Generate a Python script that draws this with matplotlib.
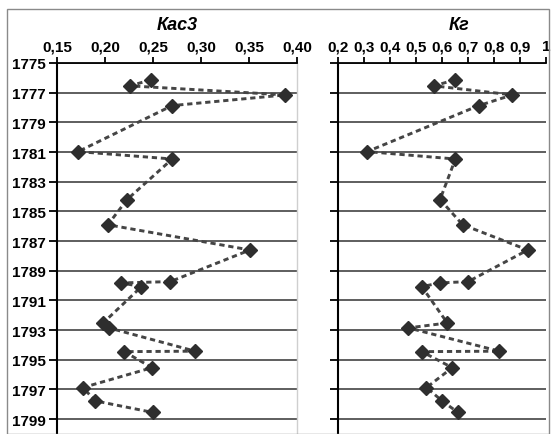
import matplotlib
matplotlib.use('Agg')
import matplotlib.pyplot as plt
from matplotlib.patches import Rectangle

plt.rcParams['font.family'] = ['Liberation Sans', 'DejaVu Sans']

# dados
anos = [1776.13, 1776.54, 1777.15, 1777.87, 1780.97, 1781.47, 1784.2, 1785.9, 1787.6,
        1789.73, 1789.82, 1790.07, 1792.52, 1792.85, 1794.42, 1794.45, 1795.53,
        1796.87, 1797.77, 1798.55]
kas3 = [0.248, 0.226, 0.388, 0.270, 0.172, 0.270, 0.223, 0.203, 0.351, 0.268,
        0.217, 0.238, 0.198, 0.204, 0.294, 0.220, 0.249, 0.177, 0.190, 0.250]
kg = [0.651, 0.570, 0.871, 0.742, 0.313, 0.652, 0.593, 0.680, 0.930, 0.701,
      0.592, 0.523, 0.621, 0.471, 0.821, 0.523, 0.640, 0.541, 0.601, 0.662]

anos_ticks = list(range(1775, 1800, 2))
kas3_ticks = [0.15, 0.20, 0.25, 0.30, 0.35, 0.40]
kas3_labels = ['0,15', '0,20', '0,25', '0,30', '0,35', '0,40']
kg_ticks = [0.2, 0.3, 0.4, 0.5, 0.6, 0.7, 0.8, 0.9, 1.0]
kg_labels = ['0,2', '0,3', '0,4', '0,5', '0,6', '0,7', '0,8', '0,9', '1']

W, H = 552, 435
fig = plt.figure(figsize=(W / 100, H / 100), dpi=100)

# moldura externa
fig.patches.append(Rectangle((7 / W, 0), 542 / W, (H - 10) / H, transform=fig.transFigure,
                             fill=False, edgecolor='#8a8a8a', linewidth=1.0))

ax1 = fig.add_axes([57 / W, 0, 240 / W, (H - 64) / H])
ax2 = fig.add_axes([337.7 / W, 0, 208.3 / W, (H - 64) / H])


def estiloEixo(ax, valores, xticks, xlabels, xlim, labels_y, lado_direito):
    ax.plot(valores, anos, color='#454545', linewidth=2.1, linestyle=(0, (1.8, 1.3)),
            dash_capstyle='butt', zorder=3)
    ax.plot(valores, anos, linestyle='none', marker='D', markersize=7,
            color='#2e2e2e', zorder=4, clip_on=False)
    ax.set_xlim(*xlim)
    ax.set_ylim(1800, 1775)
    ax.xaxis.tick_top()
    ax.set_xticks(xticks)
    ax.set_xticklabels(xlabels, fontsize=11, fontweight='bold')
    ax.set_yticks(anos_ticks)
    if labels_y:
        ax.set_yticklabels([str(a) for a in anos_ticks], fontsize=11, fontweight='bold')
    else:
        ax.set_yticklabels([])
    ax.tick_params(axis='x', direction='out', length=4.5, width=1.3, pad=2.5, color='black')
    ax.tick_params(axis='y', direction='out', length=5.5, width=1.3, pad=2.5, color='black')
    ax.grid(axis='y', color='#5e5e5e', linewidth=1.4)
    ax.set_axisbelow(True)
    ax.spines['bottom'].set_visible(False)
    ax.spines['top'].set_linewidth(1.3)
    ax.spines['left'].set_linewidth(1.5)
    if lado_direito:
        ax.spines['right'].set_color('#cfcfcf')
        ax.spines['right'].set_linewidth(1.0)
    else:
        ax.spines['right'].set_visible(False)


estiloEixo(ax1, kas3, kas3_ticks, kas3_labels, (0.15, 0.40), True, True)
estiloEixo(ax2, kg, kg_ticks, kg_labels, (0.2, 1.0), False, False)

fig.text(177 / W, 1 - 25 / H, 'Кас3', ha='center', va='center', fontsize=13,
         fontweight='bold', fontstyle='italic')
fig.text(459 / W, 1 - 25 / H, 'Кг', ha='center', va='center', fontsize=13,
         fontweight='bold', fontstyle='italic')

fig.savefig('out.png', dpi=100)
